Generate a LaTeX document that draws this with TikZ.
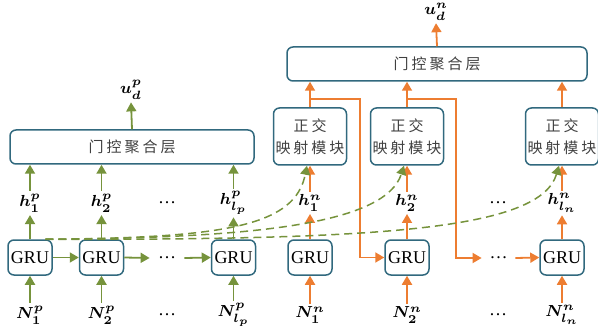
\documentclass[tikz,border=0pt]{standalone}
\usepackage{fontspec}
\usepackage{bm}
\setmainfont{Liberation Serif}
\newfontfamily\cjk[LetterSpace=20]{Noto Sans CJK SC}
\usetikzlibrary{arrows.meta}

\definecolor{boxc}{HTML}{31697E}
\definecolor{pgreen}{HTML}{76933C}
\definecolor{norange}{HTML}{ED7D31}
\definecolor{txtc}{HTML}{404040}

\tikzstyle{gru}    = [draw=boxc, line width=0.75pt, rounded corners=3pt,
                      minimum width=22pt, minimum height=17.5pt, inner sep=1pt,
                      font=\fontsize{9}{10}\selectfont]
\tikzstyle{agg}    = [draw=boxc, line width=0.75pt, rounded corners=3pt,
                      minimum height=17pt, text=txtc,
                      font=\fontsize{7.5}{11}\selectfont\cjk]
\tikzstyle{ortho}  = [agg, minimum width=35pt, minimum height=28.5pt,
                      inner sep=1pt, align=center]
\tikzstyle{vec}    = [inner sep=1.2pt, font=\fontsize{8}{9}\selectfont]
\tikzstyle{dots}   = [inner sep=0pt, font=\fontsize{9}{10}\selectfont]
\tikzstyle{garrow} = [pgreen, line width=0.9pt, -{Triangle[width=5pt,length=4.5pt]}]
\tikzstyle{oarrow} = [norange, line width=0.9pt, -{Triangle[width=5pt,length=4.5pt]}]
\tikzstyle{gdash}  = [garrow, line width=0.75pt, dash pattern=on 4pt off 2.5pt]

\begin{document}
\begin{tikzpicture}[x=0.5pt,y=-0.5pt]
  \useasboundingbox (0,0) rectangle (598,331);

  % positive branch
  \node[agg, minimum width=122pt] at (132,147) (aggP) {门控聚合层};
  \node[vec] at (131,90)  (uP)   {$\bm{u_d^p}$};
  \node[gru] at (30,257.5)    (gruP1) {GRU};
  \node[gru] at (101.5,257.5) (gruP2) {GRU};
  \node[gru] at (233.5,257.5) (gruPl) {GRU};
  \node[dots, minimum width=17pt] at (167,258) (dPg) {\dots};
  \node[vec] at (30,203)    (hP1) {$\bm{h_1^p}$};
  \node[vec] at (101.5,203) (hP2) {$\bm{h_2^p}$};
  \node[vec] at (233.5,203) (hPl) {$\bm{h_{l_p}^p}$};
  \node[dots] at (167,203) (dPh) {\dots};
  \node[vec] at (30,315)    (nP1) {$\bm{N_1^p}$};
  \node[vec] at (101.5,315) (nP2) {$\bm{N_2^p}$};
  \node[vec] at (233.5,315) (nPl) {$\bm{N_{l_p}^p}$};
  \node[dots] at (167,315) (dPn) {\dots};

  % negative branch
  \node[agg, minimum width=150pt] at (437,64) (aggN) {门控聚合层};
  \node[vec] at (436,12) (uN) {$\bm{u_d^n}$};
  \node[ortho] at (310,136.5) (orthoA) {正交\\映射模块};
  \node[ortho] at (407,136.5) (orthoB) {正交\\映射模块};
  \node[ortho] at (562,136.5) (orthoC) {正交\\映射模块};
  \node[gru] at (310,257.5) (gruN1) {GRU};
  \node[gru] at (407,257.5) (gruN2) {GRU};
  \node[gru] at (562,257.5) (gruNl) {GRU};
  \node[dots, minimum width=16.5pt] at (498.5,258) (dNg) {\dots};
  \node[vec] at (310,203) (hN1) {$\bm{h_1^n}$};
  \node[vec] at (407,203) (hN2) {$\bm{h_2^n}$};
  \node[vec] at (562,203) (hNl) {$\bm{h_{l_n}^n}$};
  \node[dots] at (498,203) (dNh) {\dots};
  \node[vec] at (310,315) (nN1) {$\bm{N_1^n}$};
  \node[vec] at (407,315) (nN2) {$\bm{N_2^n}$};
  \node[vec] at (562,315) (nNl) {$\bm{N_{l_n}^n}$};
  \node[dots] at (498,315) (dNn) {\dots};

  % green arrows
  \foreach \i in {P1,P2,Pl} {
    \draw[garrow] (n\i.north) -- (gru\i.south);
    \draw[garrow] (gru\i.north) -- (h\i.south);
    \draw[garrow] (h\i.north) -- (h\i.north |- aggP.south);
  }
  \draw[garrow] (gruP1.east) -- (gruP2.west);
  \draw[garrow] (gruP2.east) -- (dPg.west);
  \draw[garrow] (dPg.east) -- (gruPl.west);
  \draw[garrow] (aggP.north) -- (uP.south);

  % orange arrows
  \foreach \i/\o in {N1/orthoA,N2/orthoB,Nl/orthoC} {
    \draw[oarrow] (n\i.north) -- (gru\i.south);
    \draw[oarrow] (gru\i.north) -- (h\i.south);
    \draw[oarrow] (h\i.north) -- (\o.south);
    \draw[oarrow] (\o.north) -- (\o.north |- aggN.south);
  }
  \coordinate (brA) at ([yshift=4pt]orthoA.north);
  \coordinate (brB) at ([yshift=4pt]orthoB.north);
  \draw[oarrow] (brA) -- ++(50,0) |- (gruN2.west);
  \draw[oarrow] (brB) -- ++(49,0) |- (dNg.west);
  \draw[oarrow] (dNg.east) -- (gruNl.west);
  \draw[oarrow] (aggN.north) -- (uN.south);

  % dashed links into the projection modules
  \draw[gdash] (gruP1.50) .. controls (230,238) and (295,225) .. ([xshift=-1.5pt]orthoA.south);
  \draw[gdash] (gruP1.50) .. controls (250,238) and (385,225) .. ([xshift=-1.5pt]orthoB.south);
  \draw[gdash] (gruP1.50) .. controls (380,240) and (540,230) .. ([xshift=-1.5pt]orthoC.south);
\end{tikzpicture}
\end{document}
